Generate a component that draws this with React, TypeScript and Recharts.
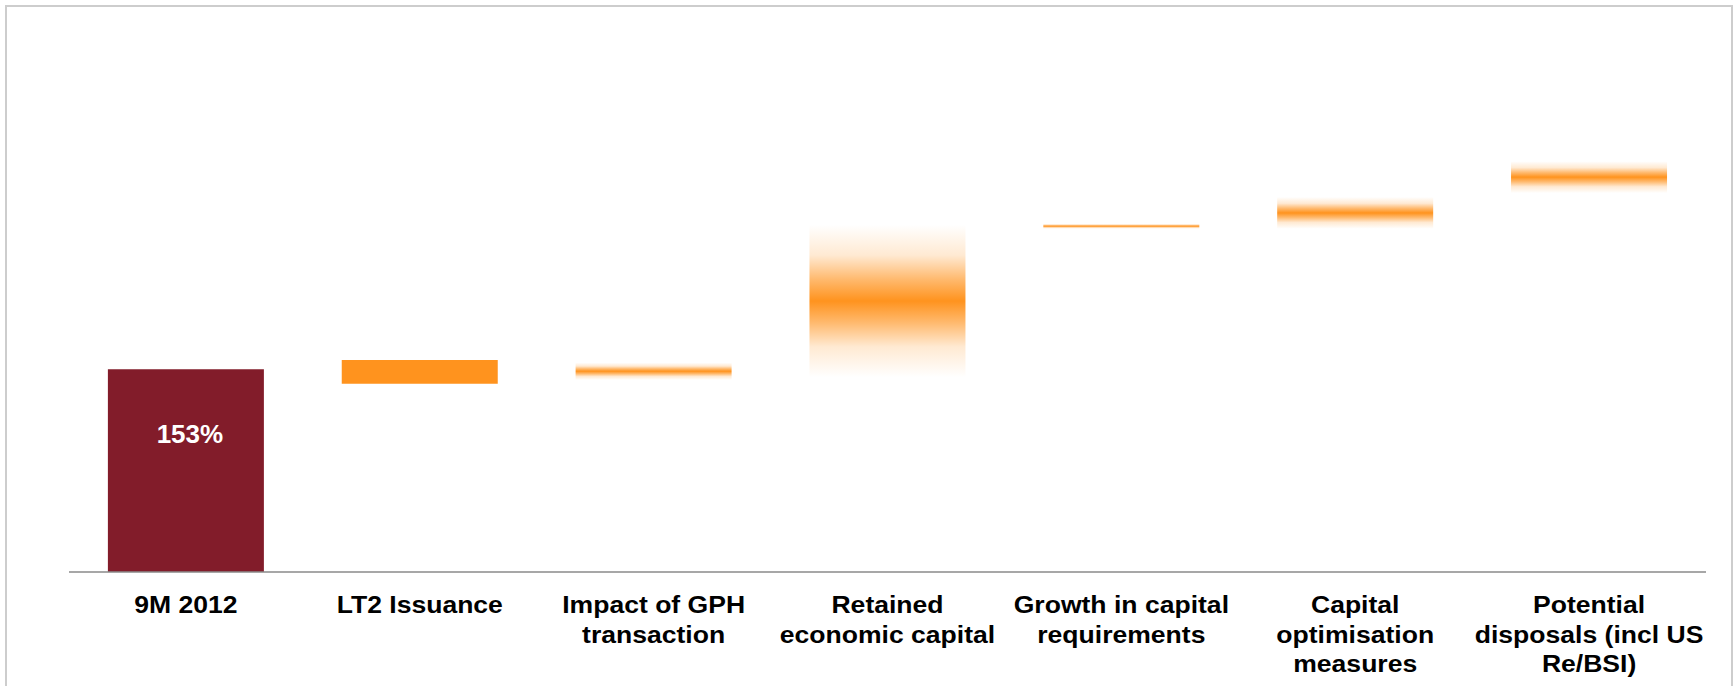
import React from 'react'
import { BarChart, Bar, XAxis, YAxis, Cell } from 'recharts'

// Solvency walk: start level, then each step drawn as a low/high range (%)
const categories = [
    '9M 2012',
    'LT2 Issuance',
    'Impact of GPH\ntransaction',
    'Retained\neconomic capital',
    'Growth in capital\nrequirements',
    'Capital\noptimisation\nmeasures',
    'Potential\ndisposals (incl US\nRe/BSI)',
]
const lows = [0, 142, 145, 147, 259, 259, 286]
const highs = [153, 160, 158, 262, 263, 283, 310]

const MAROON = '#821C2A'
const ORANGE = '#FF931E'
const FONT = '"Liberation Sans", Arial, Helvetica, sans-serif'

const data = categories.map((name, i) => ({ name, range: [lows[i], highs[i]] }))

const CategoryTick = (props: any) => {
    const { x, y, payload } = props
    const lines = String(payload.value).split('\n')
    return (
        <g transform={`translate(${x},${y})`}>
            <text
                transform="scale(1.13,1)"
                textAnchor="middle"
                fontFamily={FONT}
                fontSize={23.5}
                fontWeight="bold"
                fill="#000"
            >
                {lines.map((line, i) => (
                    <tspan key={i} x={0} y={41 + i * 29.6}>{line}</tspan>
                ))}
            </text>
        </g>
    )
}

const renderStartLabel = (props: any) => {
    const { x, y, width, index } = props
    if (index !== 0) return null
    return (
        <text
            x={Number(x) + Number(width) / 2 + 4}
            y={Number(y) + 74}
            textAnchor="middle"
            fontFamily={FONT}
            fontSize={26}
            fontWeight="bold"
            fill="#fff"
        >
            {`${highs[0]}%`}
        </text>
    )
}

const App = () => {
    return (
        <div style={{ position: 'absolute', left: 0, top: 0, width: 1733, height: 686, overflow: 'hidden', background: '#fff' }}>
            <div
                style={{
                    position: 'absolute',
                    left: 5,
                    top: 5,
                    width: 1724,
                    height: 760,
                    border: '2px solid #cdcdcd',
                }}
            />
            <BarChart
                width={1733}
                height={686}
                data={data}
                margin={{ top: 42, right: 27, bottom: 14, left: 69 }}
                barCategoryGap="16.63%"
                style={{ position: 'absolute', left: 0, top: 0 }}
            >
                <defs>
                    <linearGradient id="fade" x1="0" y1="0" x2="0" y2="1">
                        <stop offset="0" stopColor={ORANGE} stopOpacity={0} />
                        <stop offset="0.2" stopColor={ORANGE} stopOpacity={0.2} />
                        <stop offset="0.36" stopColor={ORANGE} stopOpacity={0.65} />
                        <stop offset="0.5" stopColor={ORANGE} stopOpacity={1} />
                        <stop offset="0.64" stopColor={ORANGE} stopOpacity={0.65} />
                        <stop offset="0.8" stopColor={ORANGE} stopOpacity={0.2} />
                        <stop offset="1" stopColor={ORANGE} stopOpacity={0} />
                    </linearGradient>
                </defs>
                <XAxis
                    dataKey="name"
                    interval={0}
                    height={100}
                    tickLine={false}
                    tickSize={0}
                    tickMargin={0}
                    axisLine={{ stroke: '#8a8a8a', strokeWidth: 1.5 }}
                    tick={<CategoryTick />}
                />
                <YAxis hide domain={[0, 400]} />
                <Bar dataKey="range" isAnimationActive={false} label={renderStartLabel}>
                    {data.map((entry, index) => (
                        <Cell
                            key={`cell-${index}`}
                            fill={index === 0 ? MAROON : index === 1 ? ORANGE : 'url(#fade)'}
                        />
                    ))}
                </Bar>
            </BarChart>
        </div>
    )
}

export default App
